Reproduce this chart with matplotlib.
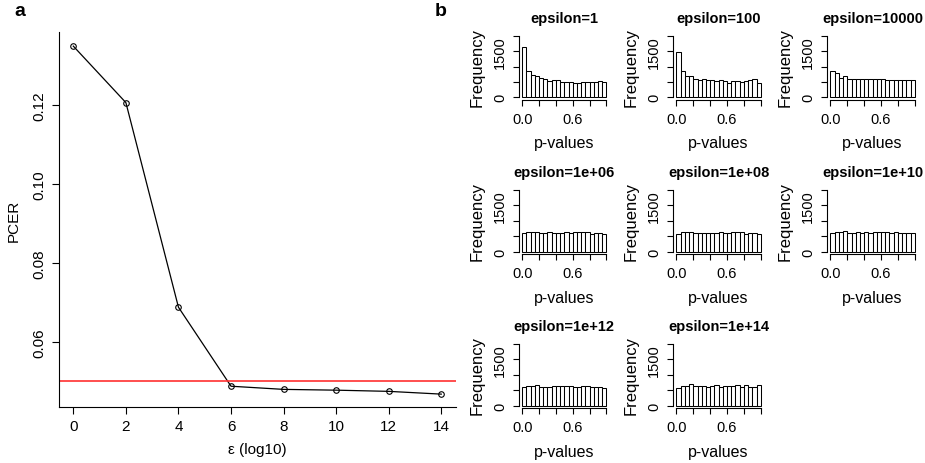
import numpy as np
import matplotlib
matplotlib.use("Agg")
import matplotlib.pyplot as plt

plt.rcParams['font.family'] = ['Liberation Sans', 'DejaVu Sans']

# panel a: PCER against epsilon (log10)
eps_log10 = [0, 2, 4, 6, 8, 10, 12, 14]
pcer = [0.1349, 0.1206, 0.0688, 0.0488, 0.0480, 0.0478, 0.0475, 0.0468]
alpha = 0.05

# panel b: p-value histograms, 20 bins over [0, 1]
titles = ['epsilon=1', 'epsilon=100', 'epsilon=10000',
          'epsilon=1e+06', 'epsilon=1e+08', 'epsilon=1e+10',
          'epsilon=1e+12', 'epsilon=1e+14']
counts_1 = [1650, 840, 725, 685, 620, 585, 545, 565, 565, 510,
            510, 510, 455, 455, 490, 490, 490, 510, 520, 490]
counts_100 = [1470, 850, 700, 680, 600, 570, 580, 560, 550, 540,
              550, 520, 480, 520, 520, 510, 530, 560, 580, 450]
counts_1e4 = [860, 780, 640, 700, 600, 600, 600, 595, 600, 585,
              610, 605, 590, 570, 570, 575, 575, 570, 560, 565]
counts_1e6 = [590, 640, 650, 650, 600, 600, 630, 620, 620, 620,
              630, 610, 640, 630, 640, 640, 570, 590, 600, 580]
counts_1e8 = [580, 630, 650, 650, 600, 590, 620, 620, 620, 620,
              630, 620, 620, 630, 630, 640, 580, 590, 590, 580]
counts_1e10 = [590, 630, 650, 660, 610, 600, 630, 620, 630, 620,
               640, 630, 630, 630, 620, 650, 590, 600, 610, 600]
counts_1e12 = [590, 630, 650, 675, 610, 610, 600, 630, 630, 630,
               630, 630, 620, 620, 640, 630, 610, 610, 620, 575]
counts_1e14 = [580, 630, 640, 690, 650, 650, 630, 600, 650, 660,
               590, 650, 650, 640, 680, 620, 680, 600, 600, 660]
all_counts = [counts_1, counts_100, counts_1e4, counts_1e6,
              counts_1e8, counts_1e10, counts_1e12, counts_1e14]
edges = np.linspace(0, 1, 21)

W, H = 925, 464
fig = plt.figure(figsize=(W / 100, H / 100), dpi=100)


def px_axes(left, top, width, height):
    return fig.add_axes([left / W, 1 - (top + height) / H, width / W, height / H])


# ---- panel a ----
ax = px_axes(58.6, 33.3, 397.4, 374.7)
ax.plot(eps_log10, pcer, color='black', lw=0.9, marker='o', ms=4,
        mfc='none', mec='black', mew=0.8)
ax.axhline(alpha, color='#ff3030', lw=1.2)
ax.set_xlim(-0.56, 14.56)
ax.set_ylim(0.04354, 0.1384)
ax.set_xticks(eps_log10)
ax.set_yticks([0.06, 0.08, 0.10, 0.12])
ax.set_yticklabels(['0.06', '0.08', '0.10', '0.12'], rotation=90, va='center')
ax.spines[['top', 'right']].set_visible(False)
ax.tick_params(labelsize=11, length=5, width=0.8, pad=4)
ax.set_xlabel('ε (log10)', fontsize=11, labelpad=6)
ax.set_ylabel('PCER', fontsize=11, labelpad=8)

fig.text(20 / W, 1 - 12 / H, 'a', fontsize=14, fontweight='bold', ha='center', va='center')
fig.text(441 / W, 1 - 11 / H, 'b', fontsize=14, fontweight='bold', ha='center', va='center')

# ---- panel b ----
col_left = [518.8, 673.1, 827.1]
row_bottom = [100.8, 255.1, 409.1]
for i, (title, counts) in enumerate(zip(titles, all_counts)):
    r, c = divmod(i, 3)
    hx = px_axes(col_left[c], row_bottom[r] - 66.5, 91.0, 66.5)
    hx.bar(edges[:-1], counts, width=0.05, align='edge',
           color='white', edgecolor='black', lw=0.75)
    hx.set_xlim(-0.04, 1.04)
    hx.set_ylim(-80, 2080)
    hx.spines[['top', 'right']].set_visible(False)
    hx.spines['left'].set_bounds(0, 2000)
    hx.spines['bottom'].set_bounds(0, 1)
    hx.set_xticks([0, 0.2, 0.4, 0.6, 0.8, 1.0])
    hx.set_xticklabels(['0.0', '', '', '0.6', '', ''])
    hx.set_yticks([0, 500, 1000, 1500, 2000])
    hx.set_yticklabels(['0', '', '', '1500', ''], rotation=90, va='center')
    hx.tick_params(labelsize=10.5, length=4, width=0.8, pad=4.5)
    hx.set_xlabel('p-values', fontsize=11.5, labelpad=7)
    hx.set_ylabel('Frequency', fontsize=12, labelpad=6)
    hx.set_title(title, fontsize=10.5, fontweight='bold', pad=8)

fig.savefig('out.png', dpi=100)
